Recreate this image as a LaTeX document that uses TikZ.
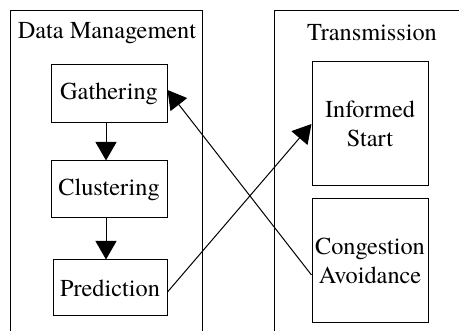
\documentclass[tikz,border=0pt]{standalone}
\usepackage{fontspec}
\setmainfont{TeX Gyre Termes}
\usetikzlibrary{arrows.meta}
\tikzset{
  box/.style={draw, line width=1pt, inner sep=0pt, align=center, font=\fontsize{24.3}{29}\selectfont},
  title/.style={inner sep=0pt, font=\fontsize{24.3}{29}\selectfont},
  group/.style={draw, line width=1pt, inner sep=0pt},
  conn/.style={line width=1pt, -{Triangle[length=18.5pt,width=21pt]}}
}
\begin{document}
\begin{tikzpicture}[x=1pt,y=-1pt]
\useasboundingbox (0,0) rectangle (459,331);
\clip (0,0) rectangle (459,331);
\node[group, minimum width=192pt, minimum height=340pt, anchor=north west] (dm) at (10,10) {};
\node[group, minimum width=200pt, minimum height=340pt, anchor=north west] (tr) at (274,10) {};
\node[title] (dmt) at (107,33) {Data Management};
\node[title] (trt) at (372,33) {Transmission};
\node[box, minimum width=116pt, minimum height=58pt] (ga) at (109,94) {Gathering};
\node[box, minimum width=116pt, minimum height=57pt] (cl) at (109,189.5) {Clustering};
\node[box, minimum width=114pt, minimum height=56pt] (pr) at (110,288) {Prediction};
\node[box, minimum width=116pt, minimum height=124pt] (is) at (370,124) {Informed\\Start};
\node[box, minimum width=116pt, minimum height=124pt] (ca) at (370,261) {Congestion\\Avoidance};
\draw[conn] ([xshift=-3pt]ga.south) -- ([xshift=-3pt]cl.north);
\draw[conn] ([xshift=-3pt]cl.south) -- ([xshift=-4pt]pr.north);
\draw[conn] ([yshift=-14pt]ca.west) -- ([yshift=4pt]ga.east);
\draw[conn] ([yshift=-4pt]pr.east) -- (is.west);
\end{tikzpicture}
\end{document}
